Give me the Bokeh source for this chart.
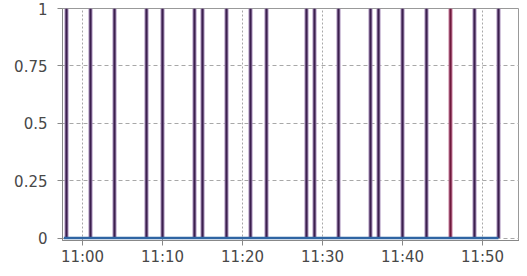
import pandas as pd
from bokeh.plotting import figure
from bokeh.models import Range1d, FixedTicker, DatetimeTickFormatter, ColumnDataSource
from bokeh.embed import file_html
from bokeh.resources import INLINE

DAY = "2024-01-01"

# Event spikes (state = 1)
purple_times = ["10:58", "11:01", "11:04", "11:08", "11:10", "11:14", "11:15",
                "11:18", "11:21", "11:23", "11:28", "11:29", "11:32", "11:36",
                "11:37", "11:40", "11:43", "11:49", "11:52"]
purple_values = [1, 1, 1, 1, 1, 1, 1, 1, 1, 1, 1, 1, 1, 1, 1, 1, 1, 1, 1]

red_times = ["11:46"]
red_values = [1]

# Baseline series (state = 0)
blue_times = ["10:57:40", "11:52"]
blue_values = [0, 0]

x_tick_labels = ["11:00", "11:10", "11:20", "11:30", "11:40", "11:50"]
y_ticks = [0, 0.25, 0.5, 0.75, 1]
y_tick_labels = ["0", "0.25", "0.5", "0.75", "1"]

x_start = "10:57:30"
x_end = "11:54:37.5"
y_start = -0.0107
y_end = 1


def ts(hm):
    return pd.Timestamp(f"{DAY} {hm}")


def ms(hm):
    return ts(hm).value / 1e6


p = figure(width=519, height=268, x_axis_type="datetime",
           output_backend="svg", toolbar_location=None,
           x_range=Range1d(ts(x_start), ts(x_end)),
           y_range=Range1d(y_start, y_end))
p.min_border_left = 62
p.min_border_right = 0
p.min_border_top = 8
p.min_border_bottom = 23
p.background_fill_color = "white"
p.border_fill_color = "white"
p.outline_line_color = "#999999"
p.outline_line_width = 1

# grids
p.xgrid.grid_line_color = "#a8a8a8"
p.xgrid.grid_line_dash = "2 2"
p.ygrid.grid_line_color = "#a8a8a8"
p.ygrid.grid_line_dash = "4 3"

# axes
p.xaxis.ticker = FixedTicker(ticks=[ms(t) for t in x_tick_labels], minor_ticks=[])
fmt = "%H:%M"
p.xaxis.formatter = DatetimeTickFormatter(seconds=fmt, minsec=fmt, minutes=fmt,
                                          hourmin=fmt, hours=fmt, days=fmt)
p.yaxis.ticker = FixedTicker(ticks=y_ticks, minor_ticks=[])
p.yaxis.major_label_overrides = {t: l for t, l in zip(y_ticks, y_tick_labels)}

for ax in (p.xaxis, p.yaxis):
    ax.axis_line_color = "#888888"
    ax.major_tick_line_color = "#888888"
    ax.minor_tick_line_color = None
    ax.major_tick_in = 0
    ax.major_tick_out = 5
    ax.major_label_text_font = "DejaVu Sans"
    ax.major_label_text_font_size = "15px"
    ax.major_label_text_color = "#484848"
p.yaxis.major_label_standoff = 10
p.xaxis.major_label_standoff = 2

# spikes
ps = ColumnDataSource(dict(t=[ts(t) for t in purple_times], v=purple_values))
rs = ColumnDataSource(dict(t=[ts(t) for t in red_times], v=red_values))
p.segment(x0="t", y0=0, x1="t", y1="v", source=ps, line_color="#a58cb8", line_width=4)
p.segment(x0="t", y0=0, x1="t", y1="v", source=ps, line_color="#3b1f4d", line_width=2)
p.segment(x0="t", y0=0, x1="t", y1="v", source=rs, line_color="#c87a9c", line_width=4)
p.segment(x0="t", y0=0, x1="t", y1="v", source=rs, line_color="#6e1a3c", line_width=2)

# baseline
p.line([ts(t) for t in blue_times], blue_values, line_color="#2f65a3", line_width=2.5)

open("out.html", "w").write(file_html(p, INLINE))
